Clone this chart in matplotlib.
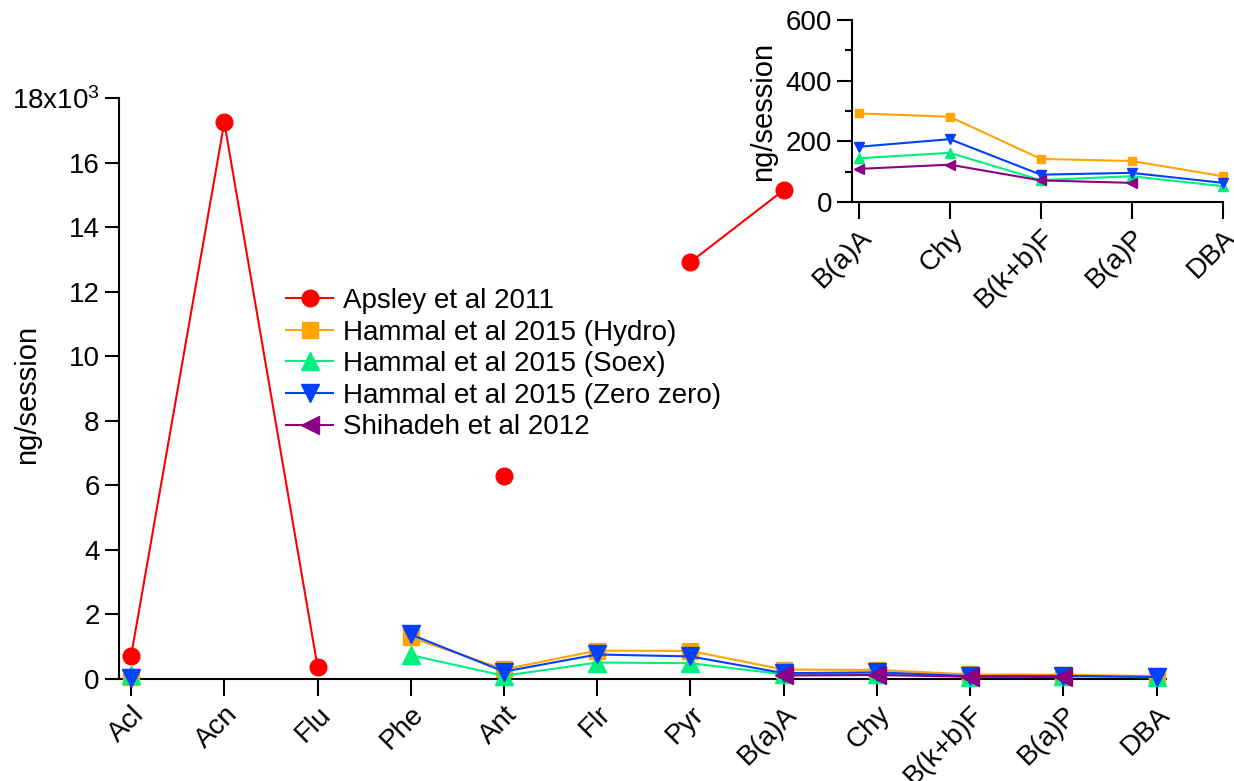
import numpy as np
import matplotlib
matplotlib.use("Agg")
import matplotlib.pyplot as plt
from matplotlib.ticker import FixedLocator, FuncFormatter, MultipleLocator

plt.rcParams['font.family'] = ['Liberation Sans', 'DejaVu Sans']
plt.rcParams['mathtext.fontset'] = 'custom'
plt.rcParams['mathtext.rm'] = 'Liberation Sans'
plt.rcParams['mathtext.it'] = 'Liberation Sans'

nan = np.nan

# PAH compounds (ng per session)
compounds = ["Acl", "Acn", "Flu", "Phe", "Ant", "Flr", "Pyr",
             "B(a)A", "Chy", "B(k+b)F", "B(a)P", "DBA"]

apsley_2011 = [710, 17260, 380, nan, 6290, nan, 12930, 15160, nan, nan, nan, nan]
hammal_hydro = [50, nan, nan, 1290, 300, 880, 870, 292, 281, 142, 135, 85]
hammal_soex = [110, nan, nan, 740, 100, 510, 490, 144, 162, 72, 85, 52]
hammal_zero = [45, nan, nan, 1380, 230, 760, 700, 182, 207, 90, 96, 63]
shihadeh_2012 = [nan, nan, nan, nan, nan, nan, nan, 109, 123, 71, 63, nan]

series_labels = ["Apsley et al 2011", "Hammal et al 2015 (Hydro)",
                 "Hammal et al 2015 (Soex)", "Hammal et al 2015 (Zero zero)",
                 "Shihadeh et al 2012"]
series_values = [apsley_2011, hammal_hydro, hammal_soex, hammal_zero, shihadeh_2012]
colors = ["#FF0000", "#FFA500", "#00F07F", "#0040FF", "#8B0085"]
markers = ["o", "s", "^", "v", "<"]
main_ms = [12, 11, 13.5, 13.5, 13.5]

# heavier PAHs shown in the inset
inset_start = compounds.index("B(a)A")
inset_compounds = compounds[inset_start:]
inset_series = [1, 2, 3, 4]
inset_ms = [5.5, 7, 7, 7]

FS = 20
fig = plt.figure(figsize=(12.34, 7.81), dpi=100)

ax = fig.add_axes([0.0964, 0.1306, 0.8485, 0.7433])
x = np.arange(len(compounds))
for vals, lab, c, m, ms in zip(series_values, series_labels, colors, markers, main_ms):
    ax.plot(x, vals, color=c, marker=m, markersize=ms, linewidth=1.5,
            label=lab, clip_on=False, zorder=3)

ax.set_xlim(-0.13, 11.1)
ax.set_ylim(0, 18000)
yt = np.arange(0, 18001, 2000)
ax.yaxis.set_major_locator(FixedLocator(yt))

def fmt_main(v, pos):
    if abs(v - 18000) < 1:
        return r"18x10$^{3}$"
    return f"{v / 1000:g}"

ax.yaxis.set_major_formatter(FuncFormatter(fmt_main))
ax.set_xticks(x)
ax.set_xticklabels(compounds, rotation=45, ha="right", va="top",
                   rotation_mode="anchor")
for s in ("top", "right"):
    ax.spines[s].set_visible(False)
for s in ("left", "bottom"):
    ax.spines[s].set_linewidth(1.5)
ax.tick_params(axis="y", direction="out", length=10, width=1.5, labelsize=FS, pad=4)
ax.tick_params(axis="x", direction="out", length=12, width=1.5, labelsize=FS, pad=4)
ax.set_ylabel("ng/session", fontsize=21)
ax.yaxis.set_label_coords(-0.074, 0.49)

leg = ax.legend(loc="upper left", bbox_to_anchor=(286 / 1234, 1 - 288 / 781),
                bbox_transform=fig.transFigure, frameon=False, fontsize=FS,
                handlelength=1.7, handletextpad=0.35, labelspacing=0.2,
                borderpad=0, borderaxespad=0)

# inset with the heavier compounds
axi = fig.add_axes([0.6902, 0.7414, 0.3006, 0.2330])
xi = np.arange(len(inset_compounds))
for i, ms in zip(inset_series, inset_ms):
    axi.plot(xi, series_values[i][inset_start:], color=colors[i], marker=markers[i],
             markersize=ms, linewidth=1.5, clip_on=False, zorder=3)
axi.set_xlim(-0.078, 4.0)
axi.set_ylim(0, 600)
axi.yaxis.set_major_locator(MultipleLocator(200))
axi.yaxis.set_minor_locator(MultipleLocator(100))
axi.set_xticks(xi)
axi.set_xticklabels(inset_compounds, rotation=45, ha="right", va="top",
                    rotation_mode="anchor")
for s in ("top", "right"):
    axi.spines[s].set_visible(False)
for s in ("left", "bottom"):
    axi.spines[s].set_linewidth(1.5)
axi.tick_params(axis="y", which="major", direction="out", length=11, width=1.5,
                labelsize=FS, pad=3)
axi.tick_params(axis="y", which="minor", direction="out", length=5, width=1.5)
axi.tick_params(axis="x", direction="out", length=12, width=1.5, labelsize=FS, pad=4)
axi.set_ylabel("ng/session", fontsize=21, labelpad=6)

fig.savefig("out.png", dpi=100)
